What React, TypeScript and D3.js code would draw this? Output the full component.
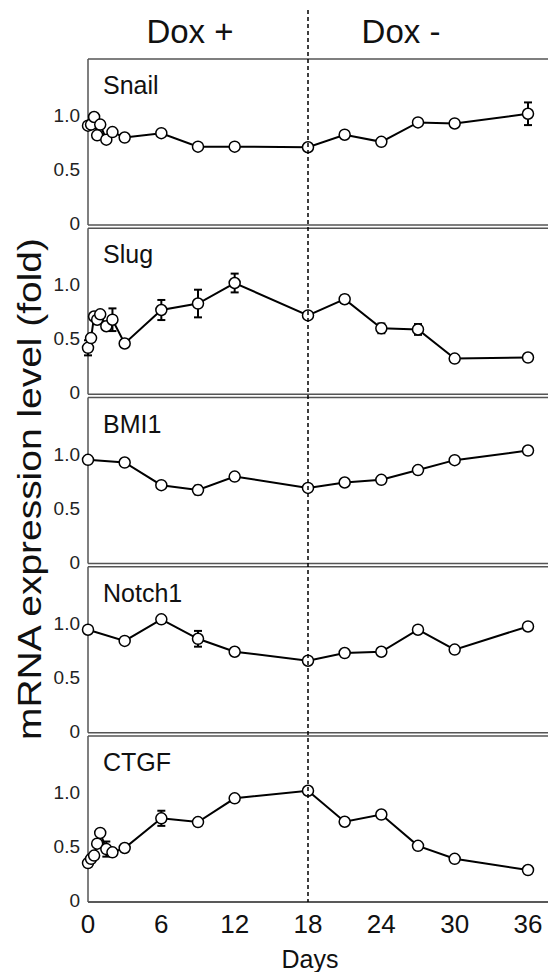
import React, { useEffect, useRef } from 'react'
import * as d3 from 'd3'

// sampling days
const daysDense = [0, 0.25, 0.5, 0.75, 1, 1.5, 2, 3, 6, 9, 12, 18, 21, 24, 27, 30, 36];
const daysSparse = [0, 3, 6, 9, 12, 18, 21, 24, 27, 30, 36];

const snailValues = [0.92, 0.93, 1.0, 0.83, 0.93, 0.79, 0.86, 0.81, 0.85, 0.725, 0.725, 0.72, 0.836, 0.77, 0.95, 0.94, 1.03];
const snailErrors = [0, 0, 0, 0, 0, 0, 0, 0, 0.02, 0, 0, 0, 0, 0, 0, 0, 0.105];

const slugValues = [0.43, 0.52, 0.72, 0.69, 0.74, 0.63, 0.69, 0.47, 0.78, 0.84, 1.03, 0.73, 0.88, 0.61, 0.6, 0.33, 0.34];
const slugErrors = [0.07, 0.03, 0.03, 0.03, 0.02, 0.03, 0.105, 0.02, 0.093, 0.128, 0.087, 0.02, 0.035, 0.045, 0.05, 0.01, 0.01];

const bmi1Values = [0.96, 0.935, 0.725, 0.68, 0.805, 0.7, 0.75, 0.775, 0.865, 0.957, 1.046];
const bmi1Errors = [0, 0, 0.02, 0.04, 0, 0.02, 0, 0, 0, 0, 0];

const notch1Values = [0.954, 0.85, 1.05, 0.87, 0.75, 0.667, 0.738, 0.75, 0.954, 0.77, 0.984];
const notch1Errors = [0, 0, 0, 0.073, 0, 0.02, 0, 0, 0, 0, 0];

const ctgfValues = [0.36, 0.4, 0.43, 0.54, 0.64, 0.49, 0.46, 0.5, 0.775, 0.74, 0.96, 1.03, 0.743, 0.81, 0.52, 0.4, 0.296];
const ctgfErrors = [0.02, 0.02, 0.02, 0.02, 0.02, 0.07, 0.02, 0.02, 0.07, 0.02, 0.02, 0.02, 0.02, 0.02, 0.02, 0.02, 0.02];

const panelNames = ['Snail', 'Slug', 'BMI1', 'Notch1', 'CTGF'];
const yTicks = [0, 0.5, 1.0];
const xTicks = [0, 6, 12, 18, 24, 30, 36];
const phaseLabels = ['Dox +', 'Dox -'];

const FONT = '"Liberation Sans", Arial, sans-serif';

export default function App() {
    const svgRef = useRef<SVGSVGElement>(null);

    useEffect(() => {
        drawChart();
    }, []);

    const drawChart = () => {
        const width = 548;
        const height = 972;
        const svg = d3.select(svgRef.current);
        svg.selectAll('*').remove();
        svg.attr('width', width).attr('height', height);

        const panels = [
            { name: panelNames[0], days: daysDense, values: snailValues, errors: snailErrors },
            { name: panelNames[1], days: daysDense, values: slugValues, errors: slugErrors },
            { name: panelNames[2], days: daysSparse, values: bmi1Values, errors: bmi1Errors },
            { name: panelNames[3], days: daysSparse, values: notch1Values, errors: notch1Errors },
            { name: panelNames[4], days: daysDense, values: ctgfValues, errors: ctgfErrors },
        ];

        const left = 88;
        const right = 548;
        const firstBottom = 225;
        const step = 169.25;
        const panelH = 166;

        const xScale = d3.scaleLinear().domain([0, 36]).range([left, 528]);

        panels.forEach((p, i) => {
            const bottom = firstBottom + i * step;
            const top = bottom - panelH;
            const yScale = d3.scaleLinear().domain([0, 1.537]).range([bottom, top]);
            const g = svg.append('g');

            // frame
            g.append('line').attr('x1', left).attr('x2', right).attr('y1', top).attr('y2', top)
                .attr('stroke', '#555').attr('stroke-width', 1.5);
            g.append('line').attr('x1', left).attr('x2', right).attr('y1', bottom).attr('y2', bottom)
                .attr('stroke', i === 4 ? '#222' : '#555').attr('stroke-width', 1.5);
            g.append('line').attr('x1', left).attr('x2', left).attr('y1', top).attr('y2', bottom)
                .attr('stroke', '#555').attr('stroke-width', 1.5);

            // y tick labels
            g.selectAll('.ytick').data(yTicks).enter().append('text')
                .attr('x', 80).attr('y', d => yScale(d))
                .attr('text-anchor', 'end').attr('dominant-baseline', 'middle')
                .attr('font-family', FONT).attr('font-size', 19).attr('fill', '#222')
                .text(d => d === 0 ? '0' : d.toFixed(1));

            g.append('text').attr('x', 103).attr('y', top + 35)
                .attr('font-family', FONT).attr('font-size', 25).attr('fill', '#111')
                .text(p.name);

            const pts = p.days.map((d, k) => ({ day: d, value: p.values[k], err: p.errors[k] }));

            const line = d3.line<any>().x(d => xScale(d.day)).y(d => yScale(d.value));
            g.append('path').datum(pts).attr('fill', 'none').attr('stroke', '#000')
                .attr('stroke-width', 2).attr('d', line);

            // error bars
            const eb = g.selectAll('.err').data(pts.filter(d => d.err > 0)).enter().append('g');
            eb.append('line').attr('x1', d => xScale(d.day)).attr('x2', d => xScale(d.day))
                .attr('y1', d => yScale(d.value - d.err)).attr('y2', d => yScale(d.value + d.err))
                .attr('stroke', '#000').attr('stroke-width', 2);
            [1, -1].forEach(s => {
                eb.append('line').attr('x1', d => xScale(d.day) - 4).attr('x2', d => xScale(d.day) + 4)
                    .attr('y1', d => yScale(d.value + s * d.err)).attr('y2', d => yScale(d.value + s * d.err))
                    .attr('stroke', '#000').attr('stroke-width', 2);
            });

            g.selectAll('.pt').data(pts).enter().append('circle')
                .attr('cx', d => xScale(d.day)).attr('cy', d => yScale(d.value))
                .attr('r', 5.5).attr('fill', '#fff').attr('stroke', '#000').attr('stroke-width', 1.5);
        });

        const lastBottom = firstBottom + 4 * step;

        // dox withdrawal line
        svg.append('line').attr('x1', xScale(18)).attr('x2', xScale(18)).attr('y1', 10).attr('y2', lastBottom)
            .attr('stroke', '#000').attr('stroke-width', 1.5).attr('stroke-dasharray', '4,3');

        // x tick labels
        svg.selectAll('.xtick').data(xTicks).enter().append('text')
            .attr('x', d => xScale(d)).attr('y', 933)
            .attr('text-anchor', 'middle').attr('font-family', FONT).attr('font-size', 26).attr('fill', '#111')
            .text(d => d);

        svg.append('text').attr('x', 310).attr('y', 968).attr('text-anchor', 'middle')
            .attr('font-family', FONT).attr('font-size', 25).attr('fill', '#111').text('Days');

        svg.selectAll('.phase').data(phaseLabels).enter().append('text')
            .attr('x', (d, k) => k === 0 ? 190 : 401).attr('y', 43).attr('text-anchor', 'middle')
            .attr('font-family', FONT).attr('font-size', 33).attr('fill', '#111').text(d => d);

        // axis title, stretched along its length like the source figure
        svg.append('text').attr('transform', 'translate(41,489) rotate(-90) scale(1.18,1)')
            .attr('text-anchor', 'middle').attr('font-family', FONT).attr('font-size', 33).attr('fill', '#111')
            .text('mRNA expression level (fold)');
    }

    return (
        <div style={{ position: 'absolute', left: 0, top: 0 }}>
            <svg ref={svgRef}></svg>
        </div>
    )
}
